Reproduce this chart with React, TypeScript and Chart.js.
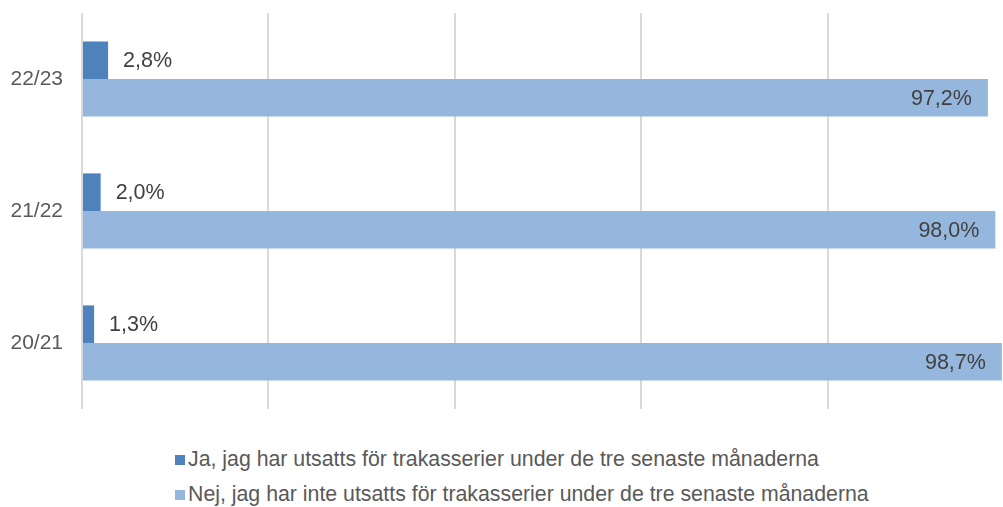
import React, { useEffect, useRef } from "react";
import { Chart, registerables } from "chart.js";

Chart.register(...registerables);

const categories = ["22/23", "21/22", "20/21"];
const jaValues = [2.8, 2.0, 1.3];
const nejValues = [97.2, 98.0, 98.7];
const seriesLabels = [
  "Ja, jag har utsatts för trakasserier under de tre senaste månaderna",
  "Nej, jag har inte utsatts för trakasserier under de tre senaste månaderna",
];
const seriesColors = ["#4F81BD", "#95B7DE"];

const FONT = '"Liberation Sans", Arial, sans-serif';

const fmt = (v: number) => v.toFixed(1).replace(".", ",") + "%";

const labelPlugin = {
  id: "barLabels",
  afterDatasetsDraw(chart: any) {
    const ctx = chart.ctx;
    ctx.save();
    ctx.font = `21.5px ${FONT}`;
    ctx.fillStyle = "#404040";
    ctx.textBaseline = "middle";
    chart.data.datasets.forEach((ds: any, di: number) => {
      const meta = chart.getDatasetMeta(di);
      meta.data.forEach((bar: any, i: number) => {
        const v = ds.data[i] as number;
        if (di === 0) {
          ctx.textAlign = "left";
          ctx.fillText(fmt(v), bar.x + 15, bar.y + 1);
        } else {
          ctx.textAlign = "right";
          ctx.fillText(fmt(v), bar.x - 16, bar.y + 1);
        }
      });
    });
    ctx.restore();
  },
};

export default function App() {
  const ref = useRef<HTMLCanvasElement>(null);
  useEffect(() => {
    if (!ref.current) return;
    const chart = new Chart(ref.current, {
      type: "bar",
      data: {
        labels: categories,
        datasets: [
          {
            label: seriesLabels[0],
            data: jaValues,
            backgroundColor: seriesColors[0],
            barPercentage: 1,
            categoryPercentage: 0.57,
          },
          {
            label: seriesLabels[1],
            data: nejValues,
            backgroundColor: seriesColors[1],
            barPercentage: 1,
            categoryPercentage: 0.57,
          },
        ],
      },
      options: {
        indexAxis: "y",
        animation: false,
        responsive: false,
        maintainAspectRatio: false,
        layout: { padding: { top: 13, bottom: 0, right: 0, left: 0 } },
        plugins: {
          legend: { display: false },
          tooltip: { enabled: false },
        },
        scales: {
          x: {
            min: 0,
            max: 100,
            ticks: { display: false, stepSize: 20 },
            grid: { color: "#D9D9D9", lineWidth: 2, drawTicks: false },
            border: { display: false },
            afterFit: (s: any) => {
              s.height = 0;
              s.paddingLeft = 0;
              s.paddingRight = 0;
            },
          },
          y: {
            ticks: {
              color: "#595959",
              font: { family: FONT, size: 21 },
              padding: 19,
            },
            grid: { display: false, drawTicks: false },
            border: { display: false },
            afterFit: (s: any) => {
              s.width = 82;
              s.paddingTop = 0;
              s.paddingBottom = 0;
            },
          },
        },
      },
      plugins: [labelPlugin],
    });
    return () => chart.destroy();
  }, []);

  const legendRow = (i: number, top: number) => (
    <div
      style={{
        position: "absolute",
        left: 175,
        top,
        display: "flex",
        alignItems: "center",
        whiteSpace: "nowrap",
        font: `21.3px ${FONT}`,
        color: "#595959",
      }}
    >
      <span
        style={{
          display: "inline-block",
          width: 10,
          height: 10,
          background: seriesColors[i],
          marginRight: 3,
        }}
      />
      <span>{seriesLabels[i]}</span>
    </div>
  );

  return (
    <div
      style={{
        position: "absolute",
        left: 0,
        top: 0,
        width: 1003,
        height: 507,
        overflow: "hidden",
        background: "#fff",
      }}
    >
      <canvas
        ref={ref}
        width={1014}
        height={409}
        style={{ position: "absolute", left: 0, top: 0 }}
      />
      {legendRow(0, 447)}
      {legendRow(1, 482)}
    </div>
  );
}
